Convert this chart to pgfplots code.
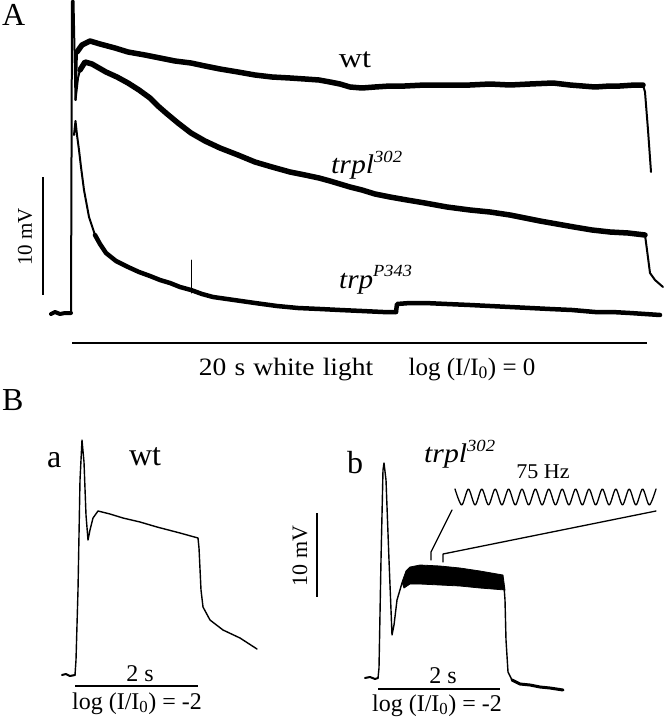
\documentclass[border=0pt]{standalone}
\usepackage{pgfplots}
\pgfplotsset{compat=1.18}
\usepackage{fontspec}
\setmainfont{Liberation Serif}
\newcommand{\fs}[1]{\fontsize{#1}{#1}\selectfont}
\newcommand{\sups}[2]{\raisebox{#1}{\fs{17}\itshape #2}}
\newcommand{\wide}[2]{\scalebox{#1}[1]{#2}}
\begin{document}
\begin{tikzpicture}
\begin{axis}[
  hide axis, clip=false, scale only axis,
  width=667pt, height=720pt,
  xmin=0, xmax=667, ymin=0, ymax=720, y dir=reverse,
  every axis plot/.append style={black, no marks, line join=round, line cap=round},
]
\coordinate (bbsw) at (rel axis cs:0,0);
\coordinate (bbne) at (rel axis cs:1,1);
% ---------------- Panel A ----------------
\addplot[line width=4pt] coordinates {(51,314) (55,312) (60,314) (65,313) (71,313)};
\addplot[line width=2pt] coordinates {(71,313) (72,1) (73.5,1) (75.5,100) (77,52)};
% wt
\addplot[line width=5.5pt] coordinates {(77,52) (82,45) (90,41) (100,44) (115,48) (128,52) (145,55) (160,58) (175,61) (191,63) (205,66) (220,69) (238,72) (255,75) (272,77) (290,78) (305,79) (319,80) (330,82) (340,84) (350,87) (362,88) (375,87) (390,86) (405,86) (425,85) (445,85) (470,85) (490,84) (510,85) (530,84) (553,83) (570,85) (595,87) (610,86) (620,86) (635,85) (643,85)};
\addplot[line width=2pt] coordinates {(643,85) (645,92) (648,130) (651,172)};
% trpl302
\addplot[line width=2pt] coordinates {(75.5,100) (78,78) (80,70)};
\addplot[line width=5.5pt] coordinates {(80,70) (85,62) (92,64) (106,72) (117,77) (128,83) (139,90) (150,98) (158,106) (166,113) (178,123) (191,133) (205,141) (220,148) (238,155) (255,162) (272,167) (290,172) (305,175) (319,178) (330,181) (340,184) (350,187) (362,190) (375,194) (390,197) (407,200) (425,203) (447,207) (470,210) (490,212) (510,215) (525,218) (540,221) (557,224) (574,227) (592,230) (610,232) (628,233) (645,235)};
\addplot[line width=2pt] coordinates {(645,235) (647,250) (650,273) (655,280) (663,287)};
% trpP343
\addplot[line width=2pt] coordinates {(74,135) (75.5,121) (77,135) (79,150) (81,167) (84,190) (89,217) (95,235)};
\addplot[line width=4.5pt] coordinates {(95,235) (100,244) (106,253) (116,261) (128,267) (139,272) (150,276) (160,280) (170,283) (180,287) (191,290) (202,294) (213,297) (234,300) (255,303) (277,306) (298,308) (320,309) (340,310) (362,311) (383,312) (396,312)};
\addplot[line width=4.5pt] coordinates {(396,312) (397,304) (410,303) (425,303) (447,304) (470,305) (490,306) (510,307) (530,308) (550,309) (572,310) (595,312) (612,312) (630,313) (645,314) (660,315)};
\addplot[line width=1pt] coordinates {(191,260) (191,293)};
\addplot[line width=2pt, line cap=butt] coordinates {(42.5,177) (42.5,295)};
\addplot[line width=2.5pt, line cap=butt] coordinates {(72,343) (647,343)};
\node[anchor=base west, inner sep=0pt] at (axis cs:2,25) {\fs{32}A};
\node[anchor=base, inner sep=0pt] at (axis cs:355,67) {\wide{1.15}{\fs{28}wt}};
\node[anchor=base west, inner sep=0pt] at (axis cs:331,173) {\wide{1.1}{\fs{27}\textit{trpl}\sups{11pt}{302}}};
\node[anchor=base west, inner sep=0pt] at (axis cs:339,288) {\wide{1.08}{\fs{27}\textit{trp}\sups{12pt}{P343}}};
\node[rotate=90, inner sep=0pt] at (axis cs:25,237) {\fs{21}10 mV};
\node[anchor=base, inner sep=0pt] at (axis cs:286,375) {\wide{1.1}{\fs{25}\spaceskip=7.5pt 20 s white light}};
\node[anchor=base, inner sep=0pt] at (axis cs:472,375) {\fs{25}log (I/I\textsubscript{0}) = 0};
% ---------------- Panel B ----------------
\node[anchor=base west, inner sep=0pt] at (axis cs:2,410) {\fs{32}B};
% a: wt
\addplot[line width=2pt] coordinates {(62,675) (66,674) (70,676) (75,675)};
\addplot[line width=1.4pt] coordinates {(75,675) (76,660) (78,590) (80,480) (82,440) (84,462) (86,515) (88,540) (90,530) (93,518) (98,511) (110,514) (123,518) (140,522) (157,527) (180,533) (198,538) (199,548) (201,590) (203,607) (210,620) (223,630) (240,638) (257,649)};
\addplot[line width=2pt, line cap=butt] coordinates {(75,686) (198,686)};
\node[anchor=base west, inner sep=0pt] at (axis cs:47,467) {\fs{32}a};
\node[anchor=base, inner sep=0pt] at (axis cs:145,465) {\fs{32}wt};
\node[anchor=base, inner sep=0pt] at (axis cs:140,681) {\fs{24}2 s};
\node[anchor=base, inner sep=0pt] at (axis cs:137,709) {\fs{24}log (I/I\textsubscript{0}) = -2};
% b: trpl302
\addplot[line width=2pt] coordinates {(365,678) (370,677) (375,679) (378,678)};
\addplot[line width=1.4pt] coordinates {(378,678) (379,668) (381,560) (383,470) (384,463) (386,480) (389,560) (392,635) (394,625) (397,600) (402,583) (406,578)};
\addplot[fill=black, draw=black, line width=0.8pt] coordinates {(402,582) (406,571) (410,567) (420,565) (440,566) (460,568) (480,571) (503,575) (505,590) (480,588) (460,586) (440,585) (420,584) (410,584) (404,588) (402,582)};
\addplot[line width=1.4pt] coordinates {(504,586) (505,600) (506,640) (508,672) (512,680)};
\addplot[line width=3pt] coordinates {(512,680) (520,684) (530,685) (540,687) (550,688) (563,690)};
\addplot[line width=2pt, line cap=butt] coordinates {(378,689) (500,689)};
\addplot[line width=2pt, line cap=butt] coordinates {(317,513) (317,597)};
\node[rotate=90, inner sep=0pt] at (axis cs:300,556) {\fs{22}10 mV};
\node[anchor=base west, inner sep=0pt] at (axis cs:347,473) {\fs{32}b};
\node[anchor=base west, inner sep=0pt] at (axis cs:424,462) {\wide{1.1}{\fs{27}\textit{trpl}\sups{11pt}{302}}};
\node[anchor=base, inner sep=0pt] at (axis cs:443,683) {\fs{24}2 s};
\node[anchor=base, inner sep=0pt] at (axis cs:437,711) {\fs{24}log (I/I\textsubscript{0}) = -2};
% callout and 75 Hz inset
\addplot[line width=1.3pt] coordinates {(431,560) (431,552) (452,510)};
\addplot[line width=1.3pt] coordinates {(443,562) (443,554) (656,511)};
\addplot[line width=1.3pt, smooth] coordinates {(455.0,489) (461.7,505) (468.4,489) (475.1,505) (481.8,489) (488.5,505) (495.2,489) (501.9,505) (508.6,489) (515.3,505) (522.0,489) (528.7,505) (535.4,489) (542.1,505) (548.8,489) (555.5,505) (562.2,489) (568.9,505) (575.6,489) (582.3,505) (589.0,489) (595.7,505) (602.4,489) (609.1,505) (615.8,489) (622.5,505) (629.2,489) (635.9,505) (642.6,489) (649.3,505) (656.0,489)};
\node[anchor=base, inner sep=0pt] at (axis cs:543,478) {\wide{1.05}{\fs{21}75 Hz}};
\end{axis}
\pgfresetboundingbox
\path (bbsw) rectangle (bbne);
\end{tikzpicture}
\end{document}
